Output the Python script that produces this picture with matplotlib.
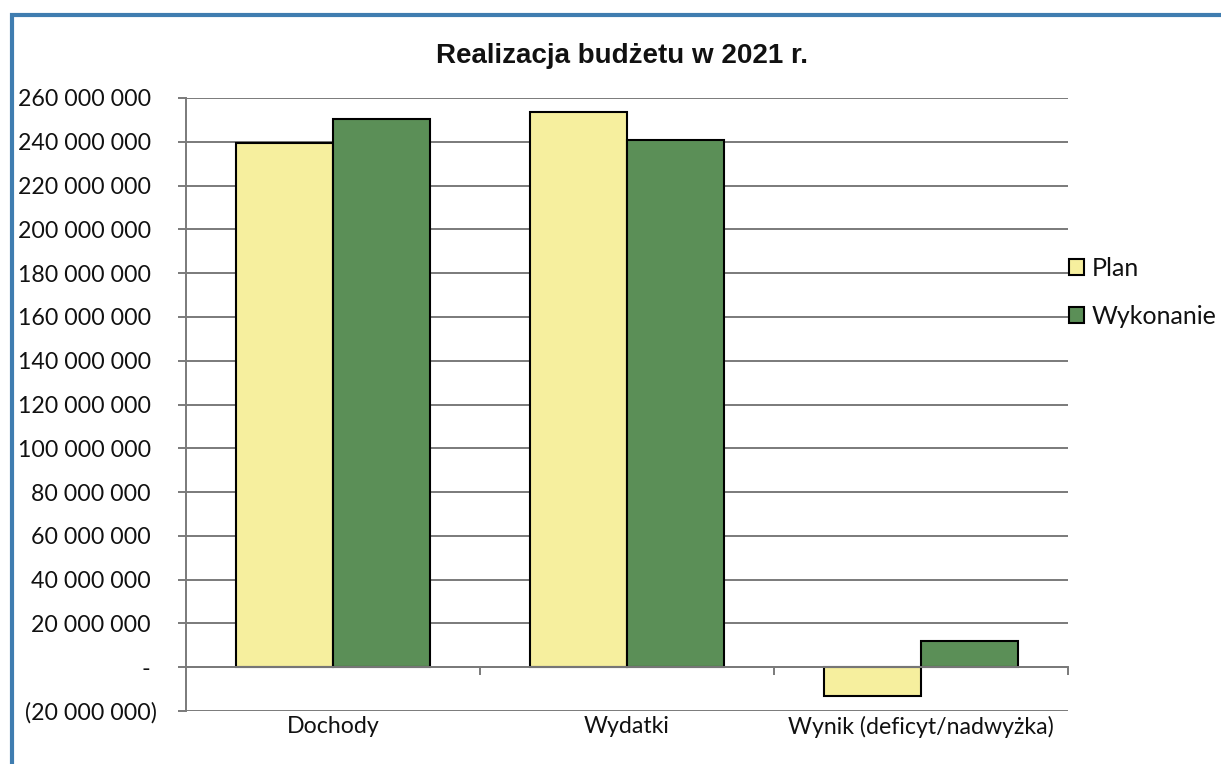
import numpy as np
import matplotlib.pyplot as plt
from matplotlib.patches import Rectangle
from matplotlib.ticker import FuncFormatter, FixedLocator

categories = ['Dochody', 'Wydatki', 'Wynik (deficyt/nadwyżka)']
plan = [239300000, 253400000, -13200000]
wykonanie = [250200000, 240600000, 11900000]
series_names = ['Plan', 'Wykonanie']
colors = ['#F6EF9E', '#5B8F57']

TICK_FONT = 'Lato'


def fmt(v, pos):
    # accounting style like Excel: "-" for zero, brackets for negatives
    if abs(v) < 1:
        return '- '
    s = '{:,.0f}'.format(abs(v)).replace(',', ' ')
    if v < 0:
        return '(' + s + ')'
    return s + ' '


fig = plt.figure(figsize=(12.21, 7.64), dpi=100)
fig.patch.set_facecolor('white')

# blue frame of the scanned page
fig.patches.append(Rectangle((12 / 1221, -0.1), 1.2, 1 - 15 / 764 + 0.1,
                             transform=fig.transFigure, fill=False,
                             edgecolor='#3F7DB0', linewidth=3))

ax = fig.add_axes([186 / 1221, 1 - 711 / 764, 882 / 1221, 613 / 764])

x = np.arange(len(categories))
w = 0.33
ax.bar(x - w / 2, plan, w, color=colors[0], edgecolor='black', linewidth=1.5,
       label=series_names[0], zorder=3)
ax.bar(x + w / 2, wykonanie, w, color=colors[1], edgecolor='black', linewidth=1.5,
       label=series_names[1], zorder=3)

ax.set_xlim(-0.5, 2.5)
ax.set_ylim(-20000000, 260000000)
ax.set_yticks(np.arange(-20000000, 260000001, 20000000))
ax.yaxis.set_major_formatter(FuncFormatter(fmt))
ax.yaxis.grid(True, color='#7a7a7a', linewidth=1.4, zorder=0)

for sp in ['top', 'right']:
    ax.spines[sp].set_visible(False)
ax.spines['left'].set_color('#7a7a7a')
ax.spines['left'].set_linewidth(1.4)
ax.spines['bottom'].set_position(('data', 0))
ax.spines['bottom'].set_color('#7a7a7a')
ax.spines['bottom'].set_linewidth(1.4)
ax.spines['bottom'].set_zorder(4)

ax.tick_params(axis='y', direction='out', length=6, width=1.4, color='#7a7a7a',
               pad=15, labelsize=16.7, labelcolor='#111111')
ax.set_xticks(x)
ax.set_xticklabels(categories)
ax.xaxis.set_minor_locator(FixedLocator([0.5, 1.5, 2.5]))
ax.tick_params(axis='x', which='major', length=0, pad=35, labelsize=16.7,
               labelcolor='#111111')
ax.tick_params(axis='x', which='minor', direction='out', length=6, width=1.4,
               color='#7a7a7a')
for lab in ax.get_xticklabels() + ax.get_yticklabels():
    lab.set_fontfamily(TICK_FONT)

fig.text(622 / 1221, 1 - 56 / 764, 'Realizacja budżetu w 2021 r.',
         ha='center', va='center', fontsize=20, fontweight='bold',
         family='Liberation Sans', color='#111111')

leg = fig.legend(loc='center left', bbox_to_anchor=(1069 / 1221, 1 - 292 / 764),
                 frameon=False, handlelength=0.6, handleheight=0.6,
                 handletextpad=0.3, labelspacing=1.0, borderpad=0, borderaxespad=0,
                 prop={'family': TICK_FONT, 'size': 18})
for t in leg.get_texts():
    t.set_color('#111111')

fig.savefig('out.png', dpi=100)
